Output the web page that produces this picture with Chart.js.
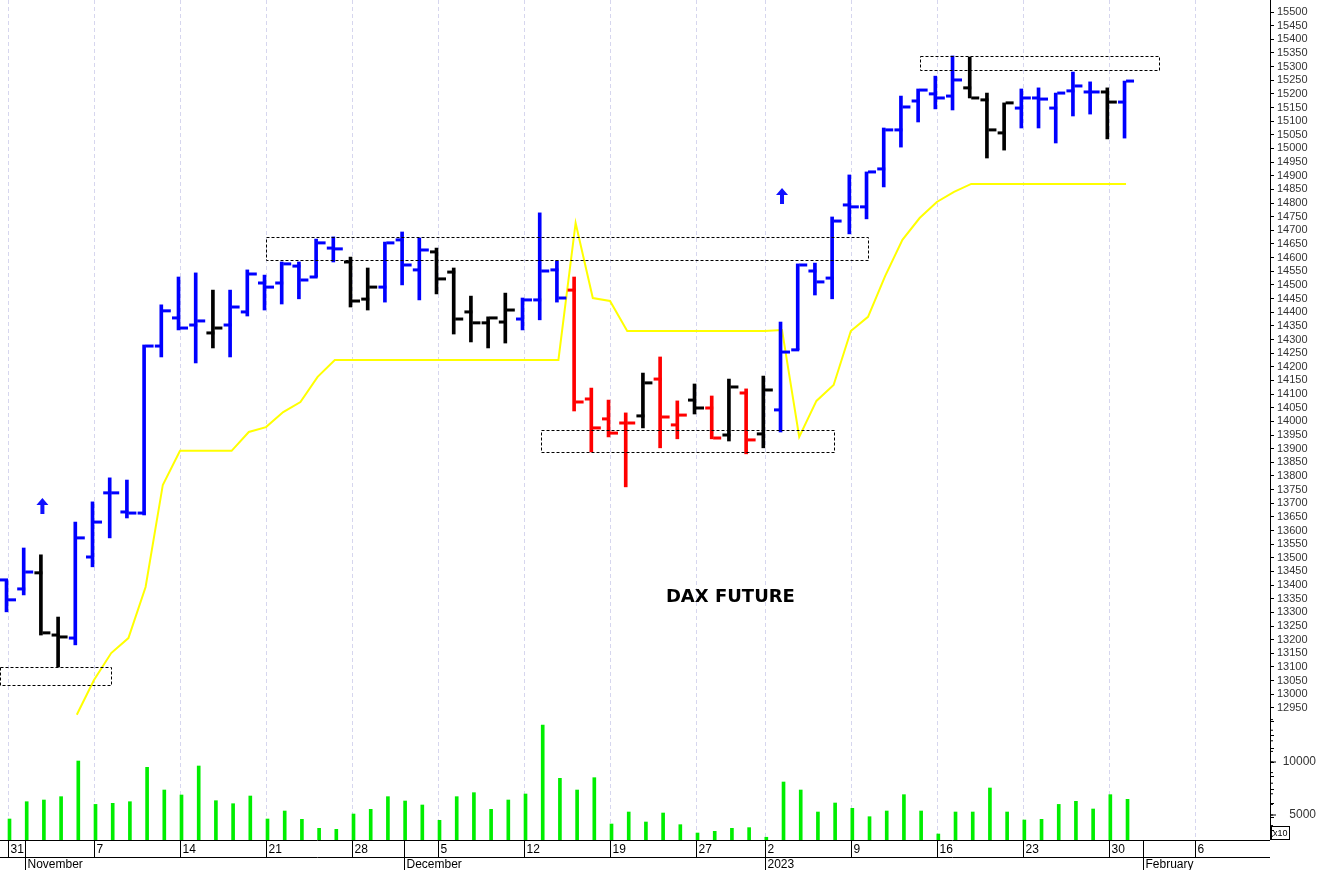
<!DOCTYPE html>
<html><head><meta charset="utf-8">
<script src="https://cdn.jsdelivr.net/npm/chart.js@4"></script>
<style>html,body{margin:0;padding:0;background:#fff}#wrap{width:1319px;height:870px}</style>
</head><body><div id="wrap"><canvas id="c"></canvas></div>
<script>
// index -1 = Oct 28 2022 ... 65 = Jan 31 2023 (trading days)
const barIndex = [-1,0,1,2,3,4,5,6,7,8,9,10,11,12,13,14,15,16,17,18,19,20,21,22,23,24,25,26,27,28,29,30,31,32,33,34,35,36,37,38,39,40,41,42,43,44,45,46,47,48,49,50,51,52,53,54,55,56,57,58,59,60,61,62,63,64,65];
const opens  = [13401,13419,13386,13445,13217,13206,13503,13738,13668,13664,14276,14379,14353,14324,14353,14401,14507,14507,14569,14529,14635,14584,14448,14492,14665,14555,14621,14547,14401,14361,14364,14375,14445,14555,14481,14082,14009,13994,14020,14155,13987,14078,14049,13950,14104,13954,14042,14262,14551,14525,14793,14786,14925,15068,15174,15200,15192,15222,15178,15057,15148,15185,15148,15211,15207,15207,15170];
const highs  = [13437,13419,13536,13511,13283,13631,13705,13793,13785,14280,14427,14529,14544,14481,14481,14555,14536,14584,14584,14668,14676,14602,14562,14657,14694,14672,14635,14562,14459,14383,14470,14452,14764,14588,14529,14122,14078,14031,14177,14236,14075,14137,14093,14155,14119,14166,14364,14577,14580,14749,14903,14914,15075,15192,15218,15265,15339,15335,15203,15167,15218,15222,15203,15280,15244,15222,15247];
const lows   = [13346,13302,13364,13217,13100,13181,13467,13573,13646,13657,14236,14335,14214,14269,14236,14386,14408,14430,14449,14529,14584,14419,14408,14437,14500,14445,14467,14320,14291,14269,14287,14335,14372,14437,14038,13888,13943,13760,13976,13903,13936,14027,13936,13928,13881,13903,13961,14262,14463,14449,14687,14742,14859,15005,15097,15145,15141,15185,14965,14994,15075,15075,15020,15119,15126,15035,15038];
const closes = [13419,13346,13448,13225,13210,13573,13631,13738,13664,14276,14405,14342,14368,14342,14419,14540,14492,14577,14518,14654,14632,14441,14492,14654,14573,14628,14522,14375,14361,14379,14408,14445,14551,14452,14071,13976,13957,13994,14141,14016,14023,14049,13939,14126,13932,14115,14254,14573,14511,14734,14786,14914,15068,15152,15214,15185,15251,15185,15068,15167,15185,15181,15203,15229,15207,15170,15247];
const barColor = ['b','b','b','k','k','b','b','b','b','b','b','b','b','k','b','b','b','b','b','b','b','k','k','b','b','b','k','k','k','k','k','b','b','b','r','r','r','r','k','r','r','k','r','k','r','k','b','b','b','b','b','b','b','b','b','b','b','k','k','k','b','b','b','b','b','k','b'];
const volIndex = [0,1,2,3,4,5,6,7,8,9,10,11,12,13,14,15,16,17,18,19,20,21,22,23,24,25,26,27,28,29,30,31,32,33,34,35,36,37,38,39,40,41,42,43,44,45,46,47,48,49,50,51,52,53,54,55,56,57,58,59,60,61,62,63,64,65];
const volumes = [4623,6255,6415,6730,10094,6000,6100,6255,9497,7358,6887,9623,6350,6066,6792,4623,5377,4592,3745,3650,5094,5534,6730,6321,5944,4500,6730,7107,5534,6415,6981,13490,8459,7358,8522,4151,5283,4340,5188,4088,3302,3460,3745,3808,2900,8113,7358,5283,6132,5629,4840,5377,6919,5377,3207,5283,5283,7547,5283,4528,4592,6000,6290,5566,6919,6481];
const lineIndex = [4,5,6,7,8,9,10,11,12,13,14,15,16,17,18,19,20,21,22,23,24,25,26,27,28,29,30,31,32,33,34,35,36,37,38,39,40,41,42,43,44,45,46,47,48,49,50,51,52,53,54,55,56,57,58,59,60,61,62,63,64,65];
const lineValues = [12925,13052,13151,13206,13393,13767,13892,13892,13892,13892,13961,13979,14034,14071,14163,14225,14225,14225,14225,14225,14225,14225,14225,14225,14225,14225,14225,14225,14225,14727,14452,14441,14331,14331,14331,14331,14331,14331,14331,14331,14331,14335,13943,14075,14133,14331,14383,14533,14665,14745,14804,14841,14870,14870,14870,14870,14870,14870,14870,14870,14870,14870];
const dayTickIndex = [0,5,10,15,20,25,30,35,40,44,49,54,59,64,69];
const dayTickLabels = ['31','7','14','21','28','5','12','19','27','2','9','16','23','30','6'];
const monthIndex = [1,23,44,66];
const monthLabels = ['November','December','2023','February'];
const zoneStart = [-0.47,15,31,53];
const zoneEnd   = [6.0,50,48,66.9];
const zoneTop   = [13100,14676,13968,15339];
const zoneBottom= [13034,14591,13888,15288];
const arrowIndex = [2,45];
const arrowPrice = [13690,14826];
const volTickValues = [5000,10000];
const priceTickValues = [];
for(let v=12500; v<=15500; v+=50) priceTickValues.push(v);

const colMap = {b:'#0000ff',k:'#000000',r:'#ff0000'};

const ohlcPlugin = {
  id:'ohlc',
  beforeDatasetsDraw(chart){
    const {ctx, chartArea:a, scales:{x}} = chart;
    ctx.save();
    ctx.strokeStyle='#d6d6ee'; ctx.lineWidth=1; ctx.setLineDash([4,3]);
    dayTickIndex.forEach(i=>{const px=Math.round(x.getPixelForValue(i))+0.5; ctx.beginPath(); ctx.moveTo(px,a.top); ctx.lineTo(px,a.bottom); ctx.stroke();});
    ctx.restore();
  },
  afterDatasetsDraw(chart){
    const {ctx, chartArea:a, scales:{x,y,yv}} = chart;
    ctx.save();
    ctx.beginPath(); ctx.rect(a.left,a.top,a.right-a.left,a.bottom-a.top); ctx.clip();
    ctx.strokeStyle='#000'; ctx.lineWidth=1; ctx.setLineDash([3,2]);
    for(let k=0;k<zoneStart.length;k++){
      const x0=Math.round(x.getPixelForValue(zoneStart[k]))+0.5, x1=Math.round(x.getPixelForValue(zoneEnd[k]))+0.5;
      const y0=Math.round(y.getPixelForValue(zoneTop[k]))+0.5, y1=Math.round(y.getPixelForValue(zoneBottom[k]))+0.5;
      ctx.strokeRect(x0,y0,x1-x0,y1-y0);
    }
    ctx.setLineDash([]);
    ctx.lineWidth=3;
    for(let k=0;k<barIndex.length;k++){
      const px=x.getPixelForValue(barIndex[k]);
      ctx.strokeStyle=colMap[barColor[k]];
      const yo=y.getPixelForValue(opens[k]), yc=y.getPixelForValue(closes[k]);
      ctx.beginPath(); ctx.moveTo(px-8,yo); ctx.lineTo(px,yo); ctx.stroke();
      ctx.beginPath(); ctx.moveTo(px,yc); ctx.lineTo(px+8,yc); ctx.stroke();
    }
    ctx.fillStyle='#1010ff';
    for(let k=0;k<arrowIndex.length;k++){
      const px=x.getPixelForValue(arrowIndex[k]), py=y.getPixelForValue(arrowPrice[k]);
      ctx.beginPath();
      ctx.moveTo(px,py-8); ctx.lineTo(px+6,py-1); ctx.lineTo(px+2,py-1); ctx.lineTo(px+2,py+8);
      ctx.lineTo(px-2,py+8); ctx.lineTo(px-2,py-1); ctx.lineTo(px-6,py-1); ctx.closePath(); ctx.fill();
    }
    ctx.fillStyle='#000'; ctx.font='bold 18px "DejaVu Sans", Arial'; ctx.textAlign='center'; ctx.textBaseline='middle';
    ctx.fillText('DAX FUTURE', x.getPixelForValue(42), y.getPixelForValue(13357));
    ctx.restore();
    ctx.save();
    ctx.strokeStyle='#000'; ctx.lineWidth=1;
    const b=a.bottom;
    ctx.beginPath(); ctx.moveTo(0,b+0.5); ctx.lineTo(a.right,b+0.5); ctx.moveTo(0,b+17.5); ctx.lineTo(a.right,b+17.5); ctx.stroke();
    ctx.font='12px Arial, "Liberation Sans"'; ctx.fillStyle='#000'; ctx.textAlign='left'; ctx.textBaseline='middle';
    dayTickIndex.forEach((i,k)=>{const px=Math.round(x.getPixelForValue(i))+0.5;
      ctx.beginPath(); ctx.moveTo(px,b); ctx.lineTo(px,b+17); ctx.stroke();
      ctx.fillText(dayTickLabels[k],px+2,b+9.5);});
    monthIndex.forEach((i,k)=>{const px=Math.round(x.getPixelForValue(i))+0.5;
      ctx.beginPath(); ctx.moveTo(px,b); ctx.lineTo(px,b+30); ctx.stroke();
      ctx.fillText(monthLabels[k],px+2,b+24.5);});
    ctx.beginPath(); ctx.moveTo(a.right+0.5,0); ctx.lineTo(a.right+0.5,b); ctx.stroke();
    ctx.fillStyle='#333'; ctx.textAlign='right';
    volTickValues.forEach(v=>{const py=yv.getPixelForValue(v);
      ctx.beginPath(); ctx.moveTo(a.right,py); ctx.lineTo(a.right+6,py); ctx.stroke();
      ctx.fillText(String(v),1316,py);});
    for(let v=3000;v<=14000;v+=1000){const py=yv.getPixelForValue(v); ctx.beginPath(); ctx.moveTo(a.right,py); ctx.lineTo(a.right+3,py); ctx.stroke();}
    ctx.strokeRect(a.right+1.5,b-13.5,18,13);
    ctx.font='9px Arial'; ctx.textAlign='left'; ctx.fillStyle='#000'; ctx.fillText('x10',a.right+3,b-6.5);
    ctx.restore();
  }
};

new Chart(document.getElementById('c'),{
  data:{datasets:[
    {type:'line',data:lineIndex.map((i,k)=>({x:i,y:lineValues[k]})),borderColor:'#ffff00',borderWidth:2,pointRadius:0,tension:0,yAxisID:'y',order:3},
    {type:'bar',data:volIndex.map((i,k)=>({x:i,y:volumes[k]})),backgroundColor:'#00ee00',barThickness:3,yAxisID:'yv',order:4},
    {type:'bar',data:barIndex.map((i,k)=>({x:i,y:[lows[k],highs[k]]})),backgroundColor:barColor.map(c=>colMap[c]),barThickness:3,yAxisID:'y',order:1}
  ]},
  options:{
    responsive:true,maintainAspectRatio:false,animation:false,
    layout:{padding:{left:0,top:0,right:0,bottom:30}},
    plugins:{legend:{display:false},tooltip:{enabled:false}},
    scales:{
      x:{type:'linear',min:-0.465,max:73.37,display:false,offset:false},
      y:{position:'right',min:12466,max:15544,
        afterBuildTicks(s){s.ticks=priceTickValues.map(v=>({value:v}));},
        afterFit(s){s.width=49;s.paddingTop=0;s.paddingBottom=0;},
        border:{display:false},
        grid:{drawOnChartArea:false,tickLength:4,color:'#000'},
        ticks:{autoSkip:false,padding:3,color:'#333',font:{size:11,family:'Arial'},
          callback:v=>(v>=12950)?String(v):''}},
      yv:{display:false,min:2642,max:81887}
    }
  },
  plugins:[ohlcPlugin]
});
</script></body></html>
